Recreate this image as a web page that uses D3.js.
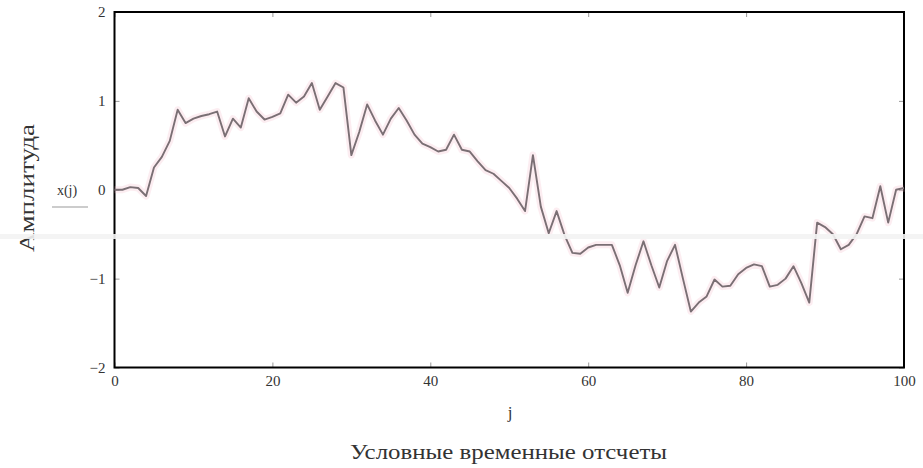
<!DOCTYPE html>
<html>
<head>
<meta charset="utf-8">
<script src="https://cdn.jsdelivr.net/npm/d3@7"></script>
<style>
  html, body { margin: 0; padding: 0; background: #fff; }
  svg { display: block; }
  text { font-family: "Liberation Serif", "DejaVu Serif", serif; fill: #333; }
</style>
</head>
<body>
<svg id="chart" width="923" height="468"></svg>
<script>
// ---- data ----
const sampleIndex = d3.range(0, 101);
const amplitude = [
  0.00, 0.00, 0.03, 0.02, -0.07, 0.25, 0.37, 0.55, 0.90, 0.75,
  0.80, 0.83, 0.85, 0.88, 0.60, 0.80, 0.70, 1.03, 0.88, 0.79,
  0.82, 0.86, 1.07, 0.98, 1.05, 1.20, 0.90, 1.05, 1.20, 1.15,
  0.39, 0.65, 0.96, 0.78, 0.62, 0.80, 0.92, 0.78, 0.62, 0.52,
  0.48, 0.43, 0.45, 0.62, 0.45, 0.43, 0.32, 0.22, 0.18, 0.10,
  0.02, -0.10, -0.24, 0.39, -0.19, -0.49, -0.24, -0.51, -0.71, -0.72,
  -0.65, -0.62, -0.62, -0.62, -0.85, -1.16, -0.85, -0.58, -0.85, -1.10,
  -0.80, -0.62, -1.00, -1.37, -1.27, -1.20, -1.01, -1.09, -1.08, -0.95,
  -0.88, -0.84, -0.86, -1.09, -1.07, -1.00, -0.86, -1.05, -1.27, -0.37,
  -0.42, -0.50, -0.67, -0.62, -0.50, -0.30, -0.32, 0.04, -0.37, 0.00,
  0.02
];
const xTicks = [0, 20, 40, 60, 80, 100];
const yTicks = [-2, -1, 0, 1, 2];
const xDomain = [0, 100];
const yDomain = [-2, 2];
const xAxisLabel = "j";
const xTitle = "Условные временные отсчеты";
const yTitle = "Амплитуда";
const seriesLabel = "x(j)";

// ---- layout ----
const svg = d3.select("#chart");
const mLeft = 114.5, mRight = 904, mTop = 12, mBottom = 367.5;

const x = d3.scaleLinear().domain(xDomain).range([mLeft, mRight]);
const y = d3.scaleLinear().domain(yDomain).range([mBottom, mTop]);

const fmt = d => d < 0 ? "\u2212" + Math.abs(d) : String(d);

// axes (ticks inward)
const gx = svg.append("g").attr("transform", `translate(0,${mBottom})`)
  .call(d3.axisBottom(x).tickValues(xTicks).tickSize(-5).tickPadding(8).tickFormat(fmt));
const gxTop = svg.append("g").attr("transform", `translate(0,${mTop})`)
  .call(d3.axisTop(x).tickValues(xTicks).tickSize(-5).tickFormat(""));
const gy = svg.append("g").attr("transform", `translate(${mLeft},0)`)
  .call(d3.axisLeft(y).tickValues(yTicks).tickSize(-5).tickPadding(9).tickFormat(fmt));
const gyR = svg.append("g").attr("transform", `translate(${mRight},0)`)
  .call(d3.axisRight(y).tickValues(yTicks).tickSize(-5).tickFormat(""));

[gx, gxTop, gy, gyR].forEach(g => {
  g.select(".domain").remove();
  g.selectAll(".tick line").attr("stroke", "#999").attr("stroke-width", 1);
  g.selectAll(".tick text").attr("font-size", 15).attr("fill", "#444")
    .attr("font-family", "Liberation Serif, serif");
});

// frame
svg.append("rect")
  .attr("x", mLeft).attr("y", mTop)
  .attr("width", mRight - mLeft).attr("height", mBottom - mTop)
  .attr("fill", "none").attr("stroke", "#000").attr("stroke-width", 2);

// series
const line = d3.line()
  .x((d, i) => x(sampleIndex[i]))
  .y(d => y(d));

svg.append("path")
  .datum(amplitude)
  .attr("d", line)
  .attr("fill", "none")
  .attr("stroke", "#f4b8c8")
  .attr("stroke-width", 7)
  .attr("stroke-opacity", 0.25)
  .attr("stroke-linejoin", "round");

svg.append("path")
  .datum(amplitude)
  .attr("d", line)
  .attr("fill", "none")
  .attr("stroke", "#7a6f74")
  .attr("stroke-width", 1.9)
  .attr("stroke-linejoin", "round");

// labels
svg.append("text")
  .attr("x", 510).attr("y", 418)
  .attr("text-anchor", "middle")
  .attr("font-size", 17)
  .text(xAxisLabel);

svg.append("text")
  .attr("x", 350).attr("y", 459)
  .attr("font-size", 20)
  .attr("textLength", 317)
  .attr("lengthAdjust", "spacingAndGlyphs")
  .text(xTitle);

svg.append("text")
  .attr("transform", "translate(34,252) rotate(-90)")
  .attr("font-size", 21)
  .attr("textLength", 128)
  .attr("lengthAdjust", "spacingAndGlyphs")
  .text(yTitle);

svg.append("text")
  .attr("x", 67).attr("y", 195)
  .attr("text-anchor", "middle")
  .attr("font-size", 14)
  .text(seriesLabel);

svg.append("line")
  .attr("x1", 52).attr("x2", 88).attr("y1", 207).attr("y2", 207)
  .attr("stroke", "#bbb").attr("stroke-width", 1.5);

// faint horizontal scan band
svg.append("rect")
  .attr("x", 0).attr("y", 234).attr("width", 923).attr("height", 5)
  .attr("fill", "#f3f3f3").attr("opacity", 0.9);
</script>
</body>
</html>
